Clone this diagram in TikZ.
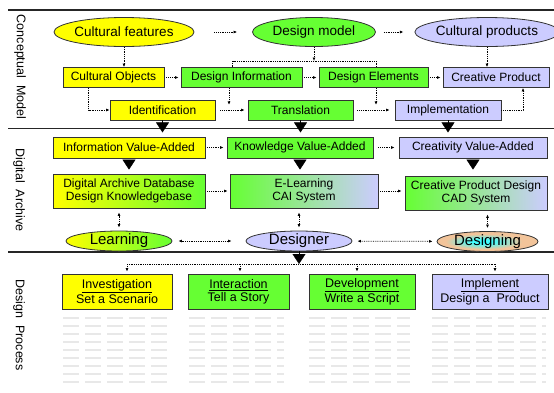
\documentclass[tikz,border=0pt]{standalone}
\usepackage{fontspec}
\setmainfont{Liberation Sans}
\usepackage{tikz}
\usetikzlibrary{arrows.meta,positioning,calc,shapes.geometric}
\definecolor{Yel}{HTML}{FFFF00}
\definecolor{Grn}{HTML}{66FF33}
\definecolor{Lav}{HTML}{CCCCFF}
\definecolor{Peach}{HTML}{F2C49A}
\definecolor{Cyan}{HTML}{40FFFF}
\definecolor{Edge}{HTML}{333333}
\pgfdeclareradialshading{glow}{\pgfpoint{-3bp}{0bp}}{color(0bp)=(Cyan); color(5bp)=(Cyan); color(19bp)=(Peach); color(50bp)=(Peach)}

\begin{document}
\begin{tikzpicture}[x=1pt,y=-1pt,
  box/.style={draw=Edge,line width=0.8pt,minimum height=20pt,inner sep=0pt,font=\fontsize{12}{13}\selectfont},
  tallbox/.style={box,minimum height=34pt,align=center},
  procbox/.style={box,minimum height=35pt,align=center,font=\fontsize{12.5}{13}\selectfont},
  oval/.style={draw=Edge,line width=0.8pt,ellipse,inner sep=0pt,minimum height=29pt,font=\fontsize{13.5}{15}\selectfont},
  lowoval/.style={oval,minimum height=20pt,font=\fontsize{15}{16}\selectfont},
  dotarrow/.style={densely dotted,line width=0.8pt,-{Latex[length=3.5pt,width=3pt]}},
  dotline/.style={densely dotted,line width=0.8pt},
  twoway/.style={densely dotted,line width=0.8pt,{Latex[length=3.5pt,width=3pt]}-{Latex[length=3.5pt,width=3pt]}},
  bigarrow/.style={line width=0.4pt,-{Triangle[length=10pt,width=13pt]}},
  sep/.style={line width=1.2pt,draw=black!85},
  side/.style={rotate=-90,font=\fontsize{12.5}{14}\selectfont},
  tabline/.style={line width=1.3pt,draw=black!9,dash pattern=on 16pt off 6pt}]
\useasboundingbox (0,0) rectangle (554,392);

\draw[sep] (8,10) -- (554,10);
\draw[sep] (8,128.5) -- (554,128.5);
\draw[sep] (8,252) -- (554,252);

\node[side] (lcm) at (20,67) {Conceptual\ \ Model};
\node[side] (lda) at (19,190) {Digital\ \ Archive};
\node[side] (ldp) at (19,325) {Design\ \ Process};

\node[oval,fill=Yel,minimum width=132pt] (cf) at (124,32) {Cultural features};
\node[oval,fill=Grn,minimum width=123pt] (dm) at (314,32) {Design model};
\node[oval,fill=Lav,minimum width=129pt] (cp) at (487,32) {Cultural products};

\node[box,fill=Yel,minimum width=101pt] (co) at (113.5,77.5) {Cultural Objects};
\node[box,fill=Grn,minimum width=121pt] (di) at (241.5,77.5) {Design Information};
\node[box,fill=Grn,minimum width=109pt] (de) at (373.5,77.5) {Design Elements};
\node[box,fill=Lav,minimum width=106pt] (crp) at (496,77.5) {Creative Product};

\node[box,fill=Yel,minimum width=105pt] (id) at (162.5,110) {Identification};
\node[box,fill=Grn,minimum width=105pt] (tr) at (300.5,110) {Translation};
\node[box,fill=Lav,minimum width=106pt] (im) at (448,110) {Implementation};

\draw[dotarrow,shorten <=20pt,shorten >=15pt] (cf) -- (dm);
\draw[dotarrow,shorten <=8pt,shorten >=11pt] (dm) -- (cp);
\draw[dotarrow] (cf.south) -- (cf.south |- co.north);
\draw[dotarrow] (cp.south) -- (cp.south |- crp.north);
\draw[dotarrow,shorten <=2pt,shorten >=2pt] (co) -- (di);
\draw[dotarrow,shorten <=2pt,shorten >=2pt] (di) -- (de);
\draw[dotarrow,shorten <=2pt,shorten >=2pt] (de) -- (crp);
\coordinate (dmbar) at (314,61);
\draw[dotarrow] (dm.south) -- (dmbar);
\draw[dotline] ([xshift=-9pt]di.north) |- (dmbar) -| ([xshift=2.5pt]de.north);
\draw[dotarrow] ([xshift=-25pt]co.south) |- (id.west);
\draw[dotarrow,shorten <=5pt,shorten >=3pt] (id) -- (tr);
\draw[dotarrow,shorten <=4pt,shorten >=5pt] (tr) -- (im);
\draw[dotarrow] ([xshift=-12.5pt]di.south) -- ++(0,17);
\draw[dotarrow] ([xshift=2.5pt]de.south) -- ++(0,17);
\draw[dotarrow] (im.east) -| ([xshift=27pt]crp.south);

\draw[bigarrow] (id.south) -- ++(0,12);
\draw[bigarrow] (tr.south) -- ++(0,12);
\draw[bigarrow] (im.south) -- ++(0,12);

\node[box,fill=Yel,minimum width=152pt,minimum height=21pt] (iva) at (129,147.5) {Information Value-Added};
\node[box,fill=Grn,minimum width=146pt,minimum height=21pt] (kva) at (300,147.5) {Knowledge Value-Added};
\node[box,fill=Lav,minimum width=148pt,minimum height=21pt] (cva) at (473,147.5) {Creativity Value-Added};

\node[tallbox,left color=Yel,right color=Grn,minimum width=152pt] (dadb) at (129,191) {Digital Archive Database\\Design Knowledgebase};
\node[tallbox,left color=Grn,right color=Lav,minimum width=148pt] (el) at (304,191) {E-Learning\\CAI System};
\node[tallbox,left color=Grn,middle color=Grn,right color=Lav,minimum width=142pt] (cpd) at (476,193) {Creative Product Design\\CAD System};

\node[lowoval,left color=Yel,right color=Grn,minimum width=106pt] (learn) at (119,241) {Learning};
\node[lowoval,fill=Lav,minimum width=106pt] (des) at (299,241) {Designer};
\node[lowoval,shading=glow,minimum width=101pt] (desg) at (487.5,241.5) {Designing};

\draw[dotarrow,shorten <=2pt,shorten >=3pt] (iva) -- (kva);
\draw[dotarrow,shorten <=5pt,shorten >=4pt] (kva) -- (cva);
\draw[dotarrow,shorten <=2pt,shorten >=2pt] (dadb) -- (el);
\draw[dotarrow,shorten <=2pt,shorten >=3pt] (el.east) -- (el.east -| cpd.west);
\draw[bigarrow,shorten <=2pt,shorten >=4pt] (iva) -- (dadb);
\draw[bigarrow,shorten <=2pt,shorten >=4pt] (kva.south) -- (kva.south |- el.north);
\draw[bigarrow,shorten <=2pt,shorten >=6pt] (cva.south) -- (cva.south |- cpd.north);
\draw[twoway,shorten <=4pt,shorten >=3pt] (learn.north |- dadb.south) -- (learn.north);
\draw[twoway,shorten <=4pt,shorten >=3pt] (des.north |- el.south) -- (des.north);
\draw[twoway,shorten <=4pt,shorten >=3pt] (desg.north |- cpd.south) -- (desg.north);
\draw[twoway,shorten <=6pt,shorten >=14pt] (learn) -- (des);
\draw[twoway,shorten <=5pt,shorten >=4pt] (des) -- (desg);

\node[procbox,fill=Yel,minimum width=110pt] (inv) at (117,291.5) {\underline{Investigation}\\Set a Scenario};
\node[procbox,fill=Grn,minimum width=101pt] (inter) at (238.5,291.5) {\underline{Interaction}\\Tell a Story};
\node[procbox,fill=Grn,minimum width=106pt] (dev) at (362,291.5) {\underline{Development}\\Write a Script};
\node[procbox,fill=Lav,minimum width=116pt] (imp) at (490,291.5) {\underline{Implement}\\Design a\ \ Product};

\coordinate (bar) at (299,264);
\draw[bigarrow] (des.south) -- (bar);
\draw[dotline] ([xshift=10pt]inv.north |- bar) -- ([xshift=5pt]imp.north |- bar);
\foreach \n/\dx in {inv/10,inter/1.5,dev/-5,imp/5}
  \draw[dotarrow,shorten >=2pt] ([xshift=\dx pt]\n.north |- bar) -- ([xshift=\dx pt]\n.north);

\foreach \x/\w in {63/109,189/95,309/101,432/114}
  \foreach \y in {318,326,...,382}
    \draw[tabline] (\x,\y) -- ++(\w,0);
\end{tikzpicture}
\end{document}
